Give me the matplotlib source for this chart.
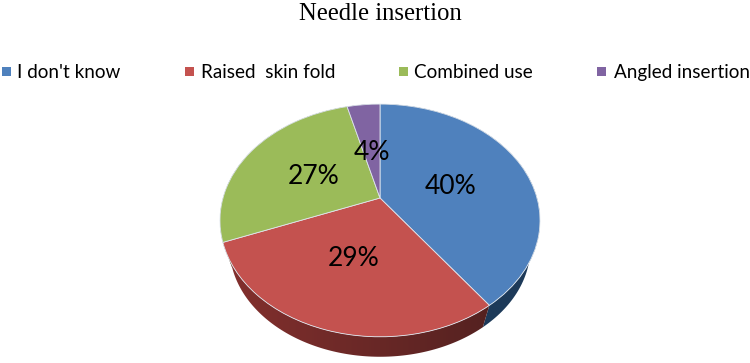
import numpy as np
import matplotlib
matplotlib.use("Agg")
import matplotlib.pyplot as plt
from matplotlib.colors import LinearSegmentedColormap
from matplotlib.patches import Polygon, Rectangle
from matplotlib.path import Path
from matplotlib.transforms import Transform

categories = ["I don't know", "Raised  skin fold", "Combined use", "Angled insertion"]
values = [40, 29, 27, 4]
colors = ["#4f81bd", "#c4524f", "#9bbb59", "#8064a2"]
side_dark = ["#1d3a59", "#4c1f1e", "#4a5a2a", "#3d3050"]
side_light = ["#1d3a59", "#84302e", "#4a5a2a", "#3d3050"]

# pie geometry in pixels
cx, cy = 380, 198
persp_k, persp_a, persp_b = 0.193, 157, 112
depth_scale, depth_dy = 0.94, 28.3


def project(u, v):
    w = 1 + persp_k * v
    return persp_a * u / w, -persp_b * v / w


class TiltTransform(Transform):
    input_dims = 2
    output_dims = 2

    def transform_non_affine(self, xy):
        x, y = project(xy[:, 0], xy[:, 1])
        return np.column_stack([cx + x, cy + y])

    def transform_path_non_affine(self, path):
        return Path(self.transform_non_affine(path.vertices), path.codes)


fig = plt.figure(figsize=(7.5, 3.63), dpi=100)
ax = fig.add_axes([0, 0, 1, 1])

wedges, _ = ax.pie(values, colors=colors, startangle=90, counterclock=False,
                   radius=1, center=(0, 0),
                   wedgeprops={"edgecolor": "#dfe6ee", "linewidth": 0.6, "zorder": 3})

tilt = TiltTransform() + ax.transData
for w in wedges:
    w.set_transform(tilt)

# side wall, built from the same wedge angles
for w, dark, light in zip(wedges, side_dark, side_light):
    angles = np.radians(np.linspace(w.theta1, w.theta2, 120))
    x, y = project(np.cos(angles), np.sin(angles))
    top = np.column_stack([cx + x, cy + y])
    low = np.column_stack([cx + depth_scale * x, cy + depth_dy + depth_scale * y])
    poly = Polygon(np.vstack([top, low[::-1]]), closed=True, facecolor="none", edgecolor="none")
    ax.add_patch(poly)
    cmap = LinearSegmentedColormap.from_list("side", [light, dark])
    # gradient runs left to right across the pie
    img = ax.imshow(np.linspace(0, 1, 256).reshape(1, -1), cmap=cmap, aspect="auto",
                    extent=(220, 540, 363, 100), zorder=1)
    img.set_clip_path(poly)

ax.set_aspect("auto")
ax.set_xlim(0, 750)
ax.set_ylim(363, 0)
ax.axis("off")

# percent labels
label_x = [451, 354, 314, 372]
label_y = [186, 259, 176, 152]
for lx, ly, v in zip(label_x, label_y, values):
    ax.text(lx, ly, f"{v}%", ha="center", va="center", fontsize=19,
            family="Lato", color="black", zorder=5)

ax.text(380, 14, "Needle insertion", ha="center", va="center", fontsize=17.8,
        family="Liberation Serif", color="black")

# legend
swatch_x = [2, 185, 399, 597]
text_x = [17, 201, 414, 614]
for sx, tx, name, c in zip(swatch_x, text_x, categories, colors):
    ax.add_patch(Rectangle((sx, 67), 9, 9, facecolor=c, edgecolor="none"))
    ax.text(tx, 72.5, name, ha="left", va="center", fontsize=13.6,
            family="Lato", color="black")

fig.savefig("out.png", dpi=100)
